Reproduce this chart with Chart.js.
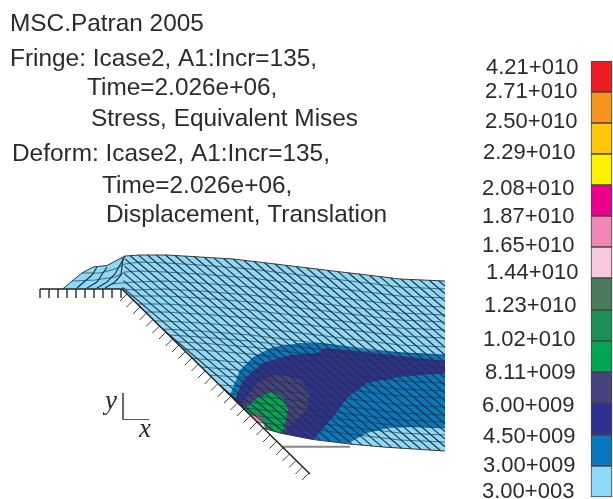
<!DOCTYPE html>
<html>
<head>
<meta charset="utf-8">
<title>MSC.Patran 2005</title>
<style>
  html, body { margin: 0; padding: 0; background: #fff; }
  canvas { display: block; }
</style>
<script src="https://cdn.jsdelivr.net/npm/chart.js@4/dist/chart.umd.min.js"></script>
</head>
<body>
<canvas id="fringeChart" width="613" height="499"></canvas>
<script>
// text
const titleLines = ['MSC.Patran 2005', 'Fringe: Icase2, A1:Incr=135,', 'Time=2.026e+06,', 'Stress, Equivalent Mises',
    'Deform: Icase2, A1:Incr=135,', 'Time=2.026e+06,', 'Displacement, Translation'];
const titleX = [10, 10, 87, 91, 12, 102, 106];
const titleY = [24, 59, 88, 119, 154, 186, 215];

const levelLabels = ['4.21+010', '2.71+010', '2.50+010', '2.29+010', '2.08+010', '1.87+010', '1.65+010', '1.44+010',
    '1.23+010', '1.02+010', '8.11+009', '6.00+009', '4.50+009', '3.00+009', '3.00+003'];
const levelLabelX = [486, 485, 485, 483, 482, 482, 482, 486, 484, 483, 485, 482, 483, 483, 482];
const levelLabelY = [68, 92, 122, 153, 189, 217, 246, 273, 306, 340, 373, 406, 437, 466, 492];

// colour bar
const levelColors = ['#ed1c24', '#f7941d', '#ffc60b', '#fff200', '#ec008c', '#f287b7', '#f7c8df', '#4b7a5c',
    '#1c8f57', '#00a651', '#46417f', '#2e3192', '#0a78c0', '#8ed8f8'];
const levelEdges = [61, 92, 123, 154, 185, 216, 247, 278, 310, 341, 372, 403, 435, 466, 497];

// die outline and hatching
const dieLine = [[40, 289], [122, 289], [310, 474]];
const flatTickX = [40, 49, 58, 67, 76, 85, 94, 103, 112, 121];
const slopeTickX = [127, 133.5, 140, 146.5, 153, 159.5, 166, 172.5, 179, 185.5, 192, 198.5, 205, 211.5, 218, 224.5,
    231, 237.5, 244, 250.5, 257, 263.5, 270, 276.5, 283, 289.5, 296, 302.5, 309];
const slopeTickY = [294, 300, 307, 313, 319.5, 326, 332, 339, 345, 351.5, 358, 364, 371, 377, 383.5, 390,
    396, 403, 409, 415.5, 422, 428, 435, 441.5, 448, 454, 460.5, 467, 473];
const restLine = [[283, 446.7], [350, 446.7]];
const axisTriad = [[123, 393], [123, 419.5], [149, 419.5]];

// fringe regions, bottom layer first
const regionLightBlue = [[63, 288.7], [72, 281], [82, 273], [93, 267], [107, 265.5], [125, 256], [140, 255], [167, 255],
    [200, 257], [233, 259], [267, 263], [300, 267], [333, 271], [367, 275], [400, 279], [445, 281], [445, 451],
    [383, 447], [350, 444], [317, 440], [300, 437], [280, 433], [263, 428], [122, 289]];
const regionBlue = [[230, 395], [240, 370], [253, 357], [273, 347], [300, 343], [323, 343], [367, 350], [445, 355],
    [445, 451], [383, 447], [350, 444], [317, 440], [300, 437], [280, 433], [263, 428]];
const regionNavy = [[235, 400], [243, 380], [263, 363], [290, 355], [317, 353], [325, 348], [367, 352], [445, 361],
    [445, 373], [400, 377], [367, 383], [348, 397], [333, 417], [313, 440], [300, 437], [280, 433], [263, 428]];
const regionLowerLight = [[347, 444], [367, 433], [388, 428], [415, 427], [445, 428], [445, 451], [383, 447]];
const regionPurple = [[242, 407], [243, 402], [257, 383], [277, 373], [300, 380], [310, 393], [307, 410], [293, 423],
    [283, 434], [280, 433], [263, 428]];
const regionGreen = [[245, 409], [257, 398], [272, 392], [283, 398], [288, 410], [285, 423], [282, 433], [263, 428]];
const regionDarkGreen = [[248, 412], [260, 408], [270, 422], [274, 430.5], [263, 428]];
const regionGreyGreen = [[251, 416], [260, 414], [267, 425], [264, 429]];
const regionPink = [[250, 415], [257, 415], [262, 421], [260, 425.5]];
const regionPalePink = [[260, 420], [264, 424], [265, 429], [260, 425.5]];

// mesh lines running along the sheet
const meshRows = [
    [[82, 273], [100, 273], [115, 269], [125, 264], [140, 262], [165, 263], [200, 265], [250, 269], [300, 275], [350, 281], [400, 287], [445, 289]],
    [[72, 281], [95, 280], [115, 277], [125, 272], [140, 271], [165, 272], [200, 274], [250, 278], [300, 284], [350, 290], [400, 296], [445, 298]],
    [[112, 284], [122, 283], [135, 282], [165, 281], [200, 283], [250, 287], [300, 293], [350, 299], [400, 305], [445, 307]],
    [[122, 289], [135, 290], [165, 289], [200, 291], [250, 295], [300, 301], [350, 307], [400, 313], [445, 315]],
    [[129.5, 296], [165, 296], [200, 298], [250, 302], [300, 308], [350, 314], [400, 320], [445, 322]],
    [[137.5, 304], [165, 304], [200, 306], [250, 310], [300, 316], [350, 322], [400, 328], [445, 330]],
    [[145.5, 312], [165, 312], [200, 314], [250, 318], [300, 324], [350, 330], [400, 336], [445, 338]],
    [[154.5, 321], [165, 321], [200, 323], [250, 327], [300, 333], [350, 339], [400, 345], [445, 347]],
    [[163, 329], [200, 331], [250, 335], [300, 341], [350, 347], [400, 353], [445, 355]],
    [[169, 335], [200, 337], [250, 341], [300, 347], [350, 353], [400, 359], [445, 361]],
    [[175, 341.5], [200, 343], [250, 347], [300, 353], [350, 359], [400, 365], [445, 367]],
    [[183, 349], [200, 350], [250, 354], [300, 360], [350, 366], [400, 372], [445, 374]],
    [[192, 358], [200, 359], [250, 363], [300, 369], [350, 375], [400, 381], [445, 383]],
    [[201, 367], [250, 371], [300, 377], [350, 383], [400, 389], [445, 391]],
    [[209, 375], [250, 378], [300, 384], [350, 390], [400, 396], [445, 398]],
    [[219.5, 385], [250, 387], [300, 393], [350, 399], [400, 405], [445, 407]],
    [[228, 393.5], [250, 395], [300, 401], [350, 407], [400, 413], [445, 415]],
    [[236, 401], [250, 402], [300, 408], [350, 414], [400, 420], [445, 422]],
    [[243, 408], [250, 408.5], [300, 414], [350, 420], [400, 426], [445, 428]],
    [[250, 415], [300, 421], [350, 427], [400, 433], [445, 435]],
    [[257, 422], [300, 428], [350, 434], [400, 440], [445, 442]]
];

// mesh lines running across the sheet
const meshCross = [
    [[77, 288], [92, 275], [97, 267]],
    [[87, 288], [97, 282], [103, 273], [107, 267]],
    [[97, 288], [107, 282], [115, 274], [125, 256]],
    [[105, 288], [115, 282], [121, 275], [123, 258]],
    [[125, 258.9], [341.5, 442.9]], [[124.5, 266.1], [330.9, 441.6]], [[124, 273.4], [320.5, 440.4]],
    [[123.5, 280.6], [309.5, 438.7]], [[122.5, 287.4], [298.1, 436.6]], [[163.8, 330.1], [286.3, 434.3]],
    [[220.9, 386.3], [273.6, 431.1]],
    [[130.2, 255.7], [352, 444.2]], [[138.5, 255.1], [362.1, 445.1]], [[147.4, 255], [372, 445.9]],
    [[156.4, 255], [382.1, 446.9]], [[165.4, 255], [392, 447.6]], [[175, 255.5], [401.7, 448.2]],
    [[184.7, 256.1], [411.5, 448.9]], [[194.4, 256.7], [421.2, 449.5]], [[204.1, 257.3], [430.9, 450.1]],
    [[213.8, 257.9], [440.6, 450.7]], [[223.5, 258.5], [445, 446.75]], [[233.1, 259], [445, 439.1]],
    [[243.6, 260.3], [445, 431.45]], [[254, 261.5], [445, 423.8]], [[264.5, 262.7], [445, 416.15]],
    [[275, 264], [445, 408.5]], [[285.5, 265.3], [445, 400.85]], [[296, 266.5], [445, 393.2]],
    [[306.4, 267.8], [445, 385.55]], [[316.9, 269], [445, 377.9]], [[327.4, 270.3], [445, 370.25]],
    [[337.9, 271.6], [445, 362.6]], [[348.3, 272.8], [445, 354.95]], [[358.8, 274], [445, 347.3]],
    [[369.3, 275.3], [445, 339.65]], [[379.8, 276.6], [445, 332]], [[390.3, 277.8], [445, 324.35]],
    [[400.8, 279], [445, 316.7]], [[410.2, 279.5], [445, 309.05]], [[419.7, 279.9], [445, 301.4]],
    [[429.2, 280.3], [445, 293.75]], [[438.7, 280.7], [445, 286.1]]
];

const toPoints = pts => pts.map(p => ({ x: p[0], y: p[1] }));

function regionSet(pts, color) {
    return { type: 'scatter', data: toPoints(pts), showLine: true, fill: 'shape', backgroundColor: color,
        borderWidth: 0, pointRadius: 0, tension: 0 };
}

function lineSet(pts, color, width) {
    return { type: 'scatter', data: toPoints(pts), showLine: true, fill: false, borderColor: color,
        borderWidth: width, pointRadius: 0, tension: 0 };
}

const datasets = [
    lineSet(restLine, '#888888', 2),
    regionSet(regionLightBlue, levelColors[13]),
    regionSet(regionBlue, levelColors[12]),
    regionSet(regionNavy, levelColors[11]),
    regionSet(regionLowerLight, levelColors[13]),
    regionSet(regionPurple, levelColors[10]),
    regionSet(regionGreen, levelColors[9]),
    regionSet(regionDarkGreen, levelColors[8]),
    regionSet(regionGreyGreen, levelColors[7]),
    regionSet(regionPink, levelColors[5]),
    regionSet(regionPalePink, levelColors[6])
];

meshRows.forEach(row => datasets.push(lineSet(row, 'rgba(35,50,65,0.65)', 1.2)));
meshCross.forEach(line => datasets.push(lineSet(line, '#26323c', 1.2)));

// outline of the sheet, drawn over the mesh
datasets.push(lineSet(regionLightBlue.slice(0, 16), '#3a3a3a', 1));
datasets.push(lineSet(regionLightBlue.slice(16, 23), '#3a3a3a', 1));
datasets.push(lineSet(axisTriad, '#555555', 1));

flatTickX.forEach(x => datasets.push(lineSet([[x, 289], [x, 298]], '#555555', 1)));
slopeTickX.forEach((x, i) => datasets.push(lineSet([[x, slopeTickY[i]], [x - 7, slopeTickY[i] + 7]], '#444444', 1)));
datasets.push(lineSet(dieLine, '#222222', 1.5));

datasets.push({
    type: 'bar',
    data: levelColors.map((c, i) => ({ x: 601.5, y: [levelEdges[i], levelEdges[i + 1]] })),
    backgroundColor: levelColors,
    borderColor: '#444444',
    borderWidth: 1,
    borderSkipped: false,
    barThickness: 21
});

// first in the list has to be painted first
datasets.reverse();

const labelsPlugin = {
    id: 'fringeLabels',
    afterDraw(chart) {
        const { ctx, scales } = chart;
        const put = (text, x, y) => ctx.fillText(text, scales.x.getPixelForValue(x), scales.y.getPixelForValue(y));
        ctx.save();
        ctx.fillStyle = '#2b2b2b';
        ctx.textAlign = 'left';
        ctx.textBaseline = 'middle';
        ctx.font = '24.4px "Liberation Sans", Arial, sans-serif';
        titleLines.forEach((t, i) => put(t, titleX[i], titleY[i]));
        ctx.font = '22px "Liberation Sans", Arial, sans-serif';
        levelLabels.forEach((t, i) => put(t, levelLabelX[i], levelLabelY[i]));
        ctx.font = 'italic 27px "Liberation Serif", "Times New Roman", serif';
        put('y', 105, 402);
        put('x', 139, 430);
        ctx.restore();
    }
};

new Chart(document.getElementById('fringeChart').getContext('2d'), {
    type: 'scatter',
    data: { datasets: datasets },
    plugins: [labelsPlugin],
    options: {
        responsive: false,
        animation: false,
        layout: { padding: 0 },
        plugins: { legend: { display: false }, tooltip: { enabled: false } },
        scales: {
            x: { type: 'linear', min: 0, max: 613, display: false, offset: false },
            y: { type: 'linear', min: 0, max: 499, reverse: true, display: false }
        }
    }
});
</script>
</body>
</html>
